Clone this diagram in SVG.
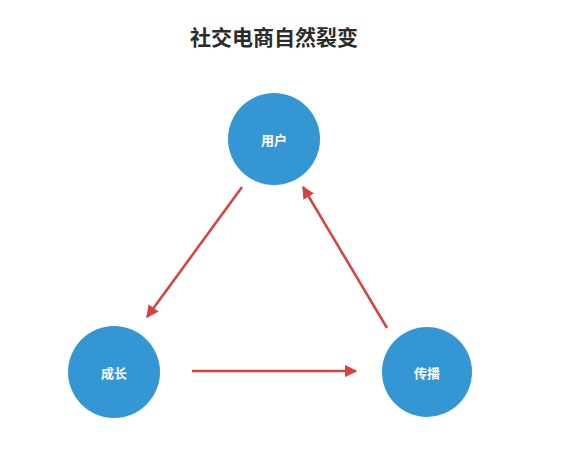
<svg xmlns="http://www.w3.org/2000/svg" width="565" height="468" viewBox="0 0 565 468">
<style>
.node circle{fill:#3497d3}
.node text{fill:#ffffff;font-family:"Noto Sans CJK SC","Noto Sans",sans-serif;font-size:13px;font-weight:bold;text-anchor:middle;dominant-baseline:central}
.title{fill:#2b2b2b;font-family:"Noto Sans CJK SC","Noto Sans",sans-serif;font-size:21px;font-weight:bold;text-anchor:middle}
#connectors line{stroke:#d94040;stroke-width:2.5;fill:none}
</style>
<defs>
<marker id="ah" viewBox="0 0 10 10" refX="9" refY="5" markerWidth="5" markerHeight="5" markerUnits="strokeWidth" orient="auto">
<path d="M0,0 L10,5 L0,10 z" fill="#d94040"/>
</marker>
</defs>
<rect width="565" height="468" fill="#ffffff"/>
<text class="title" x="274" y="45">社交电商自然裂变</text>
<g id="connectors">
<line x1="242" y1="187" x2="147" y2="317" marker-end="url(#ah)"/>
<line x1="387" y1="328" x2="303" y2="187" marker-end="url(#ah)"/>
<line x1="192" y1="371" x2="356" y2="371" marker-end="url(#ah)"/>
</g>
<g id="node-user" class="node">
<circle cx="274" cy="139" r="46"/>
<text x="274" y="139">用户</text>
</g>
<g id="node-growth" class="node">
<circle cx="114" cy="372" r="46"/>
<text x="114" y="372">成长</text>
</g>
<g id="node-spread" class="node">
<circle cx="427" cy="372" r="45"/>
<text x="427" y="372">传播</text>
</g>
</svg>
